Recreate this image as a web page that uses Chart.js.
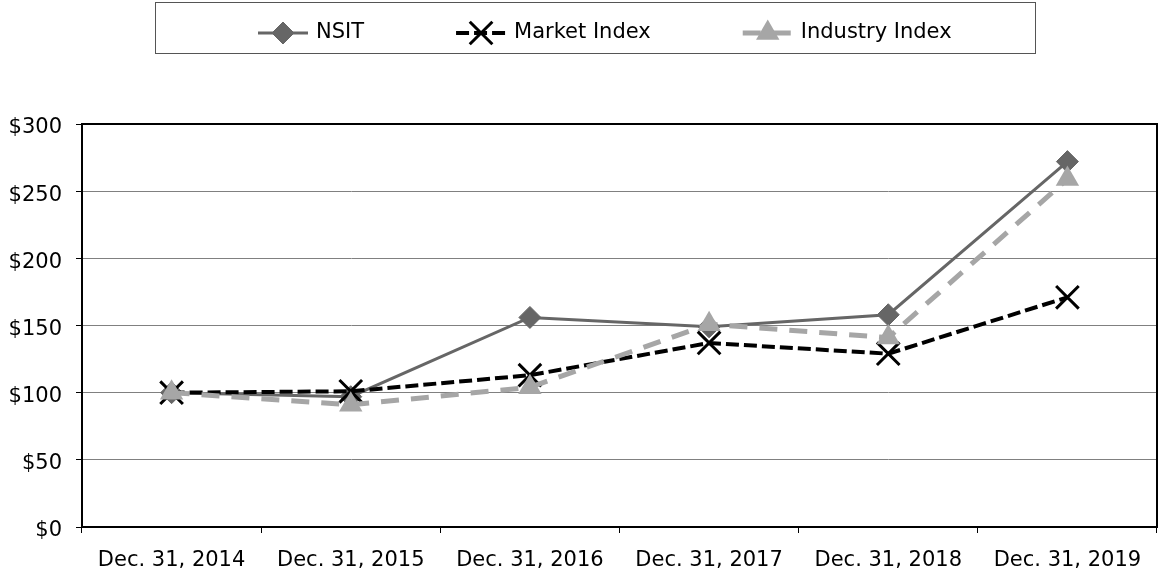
<!DOCTYPE html>
<html lang="en">
<head>
<meta charset="UTF-8">
<title>Cumulative Total Return</title>
<script src="https://cdn.jsdelivr.net/npm/chart.js@4/dist/chart.umd.min.js"></script>
<style>
  body { margin: 0; background: #fff; }
  #wrap { width: 1163px; height: 574px; }
</style>
</head>
<body>
<div id="wrap"><canvas id="perfChart" width="1163" height="574"></canvas></div>
<script>
// values
const categories = ['Dec. 31, 2014', 'Dec. 31, 2015', 'Dec. 31, 2016', 'Dec. 31, 2017', 'Dec. 31, 2018', 'Dec. 31, 2019'];
const nsit = [100, 97, 156, 149, 158, 272];
const marketIndex = [100, 101, 113, 137, 129, 171];
const industryIndex = [100, 91, 104, 151, 141, 259];
const yMin = 0;
const yMax = 300;
const yStep = 50;

const FONT = { family: 'DejaVu Sans', size: 21 };

// Excel-style legend: line sample + marker + label, inside a framed box
const boxedLegend = {
    id: 'boxedLegend',
    afterDraw(chart) {
        const ctx = chart.ctx;
        const sampleW = 50, gap = 8, spacing = 92, midY = 33;
        let x = 258;
        ctx.save();
        ctx.strokeStyle = '#555';
        ctx.lineWidth = 1;
        ctx.strokeRect(155.5, 2.5, 880, 51);
        ctx.font = FONT.size + 'px "' + FONT.family + '"';
        ctx.textBaseline = 'middle';
        chart.data.datasets.forEach(ds => {
            ctx.setLineDash(ds.borderDash || []);
            ctx.strokeStyle = ds.borderColor;
            ctx.lineWidth = ds.borderWidth;
            ctx.beginPath();
            ctx.moveTo(x, midY);
            ctx.lineTo(x + sampleW, midY);
            ctx.stroke();
            ctx.setLineDash([]);
            ctx.fillStyle = ds.pointBackgroundColor;
            ctx.strokeStyle = ds.pointBorderColor;
            ctx.lineWidth = ds.pointBorderWidth;
            Chart.helpers.drawPoint(ctx, {
                pointStyle: ds.pointStyle,
                radius: ds.pointRadius,
                borderWidth: ds.pointBorderWidth,
                rotation: 0
            }, x + sampleW / 2, midY);
            ctx.fillStyle = '#000';
            ctx.fillText(ds.label, x + sampleW + gap, midY);
            x += sampleW + gap + ctx.measureText(ds.label).width + spacing;
        });
        ctx.restore();
    }
};

// black frame round the plot area
const plotFrame = {
    id: 'plotFrame',
    beforeDatasetsDraw(chart) {
        const { ctx, chartArea: a } = chart;
        ctx.save();
        ctx.strokeStyle = '#000';
        ctx.lineWidth = 2;
        ctx.strokeRect(a.left, a.top, a.right - a.left, a.bottom - a.top);
        ctx.restore();
    }
};

const ctx = document.getElementById('perfChart').getContext('2d');
new Chart(ctx, {
    type: 'line',
    data: {
        labels: categories,
        datasets: [
            {
                label: 'NSIT',
                data: nsit,
                borderColor: '#666666',
                borderWidth: 3,
                pointStyle: 'rectRot',
                pointRadius: 11,
                pointHoverRadius: 11,
                pointBackgroundColor: '#666666',
                pointBorderColor: '#666666',
                pointBorderWidth: 1,
                order: 2
            },
            {
                label: 'Market Index',
                data: marketIndex,
                borderColor: '#000000',
                borderWidth: 4,
                borderDash: [13, 5],
                pointStyle: 'crossRot',
                pointRadius: 16,
                pointHoverRadius: 16,
                pointBackgroundColor: '#000000',
                pointBorderColor: '#000000',
                pointBorderWidth: 3,
                order: 1
            },
            {
                label: 'Industry Index',
                data: industryIndex,
                borderColor: '#a6a6a6',
                borderWidth: 5,
                borderDash: [18, 12],
                pointStyle: 'triangle',
                pointRadius: 13.5,
                pointHoverRadius: 13.5,
                pointBackgroundColor: '#a6a6a6',
                pointBorderColor: '#a6a6a6',
                pointBorderWidth: 0,
                order: 0
            }
        ]
    },
    options: {
        responsive: false,
        animation: false,
        tension: 0,
        clip: false,
        layout: { autoPadding: false, padding: { top: 124, right: 6, bottom: 2, left: 0 } },
        plugins: {
            legend: { display: false },
            tooltip: { enabled: false }
        },
        scales: {
            x: {
                offset: true,
                grid: {
                    offset: true,
                    drawOnChartArea: false,
                    drawTicks: true,
                    tickLength: 6,
                    color: '#000'
                },
                border: { color: '#000', width: 2 },
                ticks: { font: FONT, color: '#000', padding: 15, maxRotation: 0, autoSkip: false },
                afterFit(scale) {
                    scale.height = 45;
                    scale.paddingLeft = 0;
                    scale.paddingRight = 0;
                }
            },
            y: {
                min: yMin,
                max: yMax,
                grid: { color: '#808080', lineWidth: 1, tickLength: 6, tickColor: '#000' },
                border: { color: '#000', width: 2 },
                ticks: {
                    stepSize: yStep,
                    font: FONT,
                    color: '#000',
                    padding: 14,
                    labelOffset: 4,
                    callback: v => '$' + v
                },
                afterFit(scale) {
                    scale.width = 82;
                    scale.paddingBottom = 0;
                    scale.paddingTop = 0;
                }
            }
        }
    },
    plugins: [plotFrame, boxedLegend]
});
</script>
</body>
</html>
